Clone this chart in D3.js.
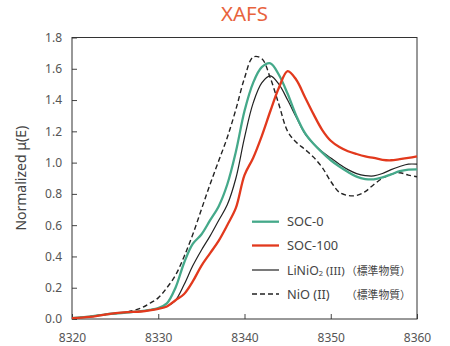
<!DOCTYPE html>
<html><head><meta charset="utf-8">
<script src="https://cdn.jsdelivr.net/npm/d3@7"></script>
<style>html,body{margin:0;padding:0;background:#fff;}svg{display:block;}</style>
</head><body>
<svg id="chart" width="450" height="346"></svg>
<script>
const energy = [8320,8322,8324,8326,8328,8329,8330,8331,8332,8333,8334,8335,8336,8337,8338,8339,8340,8341,8342,8343,8344,8345,8346,8347,8348,8349,8350,8351,8352,8353,8354,8355,8356,8357,8358,8359,8360];
const soc0 =   [0.005,0.015,0.03,0.04,0.05,0.058,0.07,0.10,0.20,0.36,0.48,0.54,0.63,0.72,0.86,1.07,1.33,1.51,1.61,1.635,1.56,1.44,1.30,1.19,1.12,1.065,1.015,0.975,0.94,0.91,0.895,0.893,0.905,0.925,0.945,0.955,0.957];
const soc100 = [0.005,0.013,0.03,0.042,0.048,0.055,0.065,0.08,0.12,0.16,0.24,0.34,0.42,0.50,0.60,0.71,0.92,1.03,1.17,1.33,1.48,1.585,1.53,1.42,1.31,1.21,1.14,1.10,1.073,1.055,1.04,1.03,1.018,1.015,1.022,1.03,1.04];
const linio2 = [0.005,0.015,0.03,0.04,0.05,0.058,0.068,0.08,0.12,0.22,0.34,0.44,0.53,0.63,0.73,0.90,1.16,1.38,1.51,1.555,1.50,1.40,1.29,1.185,1.12,1.07,1.03,0.99,0.955,0.93,0.917,0.915,0.93,0.955,0.975,0.99,0.99];
const nio =    [0.005,0.015,0.03,0.04,0.07,0.10,0.135,0.20,0.28,0.40,0.54,0.70,0.86,1.01,1.16,1.34,1.54,1.675,1.665,1.54,1.37,1.20,1.13,1.085,1.035,0.97,0.88,0.81,0.79,0.79,0.815,0.86,0.90,0.925,0.935,0.92,0.91];
const xTicks = [8320,8330,8340,8350,8360];
const yTicks = [0,0.2,0.4,0.6,0.8,1.0,1.2,1.4,1.6,1.8];
const seriesNames = [["SOC-0"],["SOC-100"],["LiNiO","2"," (III)"],["NiO (II)"]];
const seriesNotes = ["","","\uff08\u6a19\u6e96\u7269\u8cea\uff09","\uff08\u6a19\u6e96\u7269\u8cea\uff09"];
const seriesValues = [soc0, soc100, linio2, nio];
const seriesColors = ["#45a98a","#e2391d","#222222","#222222"];
const seriesWidths = [2.3,2.3,1.2,1.4];
const seriesDash = [null,null,null,"5,3"];

const svg = d3.select("#chart");
const m = {left:72, right:33, top:37.5, bottom:27};
const W = 450, H = 346;
const x = d3.scaleLinear().domain([8320,8360]).range([m.left, W-m.right]);
const y = d3.scaleLinear().domain([0,1.8]).range([H-m.bottom, m.top]);
const font = "'Noto Sans','Open Sans',sans-serif";

// title
svg.append("text").attr("x",(m.left+W-m.right)/2).attr("y",21)
  .attr("text-anchor","middle").attr("font-family",font).attr("font-size",20.5)
  .attr("fill","#e8633d").text("XAFS");

// axes
const xAxis = svg.append("g").attr("transform",`translate(0,${H-m.bottom})`)
  .call(d3.axisBottom(x).tickValues(xTicks).tickSizeInner(-5).tickSizeOuter(0).tickPadding(14).tickFormat(d3.format("d")));
const yAxis = svg.append("g").attr("transform",`translate(${m.left},0)`)
  .call(d3.axisLeft(y).tickValues(yTicks).tickSizeInner(-5).tickSizeOuter(0).tickPadding(10).tickFormat(d3.format(".1f")));
[xAxis,yAxis].forEach(g=>{
  g.select(".domain").remove();
  g.selectAll("line").attr("stroke","#444");
  g.selectAll("text").attr("font-family",font).attr("font-size",12).attr("fill","#555");
});
// frame
svg.append("rect").attr("x",m.left).attr("y",m.top)
  .attr("width",W-m.right-m.left).attr("height",H-m.bottom-m.top)
  .attr("fill","none").attr("stroke","#333").attr("stroke-width",1);

// y title
svg.append("text").attr("transform",`translate(26,${(m.top+H-m.bottom)/2}) rotate(-90)`)
  .attr("text-anchor","middle").attr("font-family",font).attr("font-size",14)
  .attr("fill","#444").text("Normalized \u03bc(E)");

// lines
const line = d3.line().x((d,i)=>x(energy[i])).y(d=>y(d)).curve(d3.curveCatmullRom.alpha(0.5));
const order = [3,2,0,1];
order.forEach(k=>{
  svg.append("path").datum(seriesValues[k]).attr("d",line)
    .attr("fill","none").attr("stroke",seriesColors[k]).attr("stroke-width",seriesWidths[k])
    .attr("stroke-dasharray",seriesDash[k]).attr("stroke-linejoin","round");
});

// legend
const legY = [221.7,245.5,270,294];
seriesNames.forEach((parts,i)=>{
  svg.append("line").attr("x1",252).attr("x2",279).attr("y1",legY[i]).attr("y2",legY[i])
    .attr("stroke",seriesColors[i]).attr("stroke-width",seriesWidths[i]).attr("stroke-dasharray",seriesDash[i]);
  const t = svg.append("text").attr("x",287).attr("y",legY[i]+4.5).attr("font-family",font).attr("font-size",12.8)
    .attr("fill","#444");
  if (parts.length === 1) t.text(parts[0]);
  else {
    t.append("tspan").attr("font-size",12.3).text(parts[0]);
    t.append("tspan").attr("font-size",7.5).attr("dy",1.5).text(parts[1]);
    t.append("tspan").attr("dy",-1.5).attr("font-size",11.5).text(parts[2]);
  }
  if (seriesNotes[i]) {
    svg.append("text").attr("x",346).attr("y",legY[i]+4.5)
      .attr("font-family","'Noto Sans CJK JP',sans-serif").attr("font-size",10.8)
      .attr("fill","#444").text(seriesNotes[i]);
  }
});
</script>
</body></html>
